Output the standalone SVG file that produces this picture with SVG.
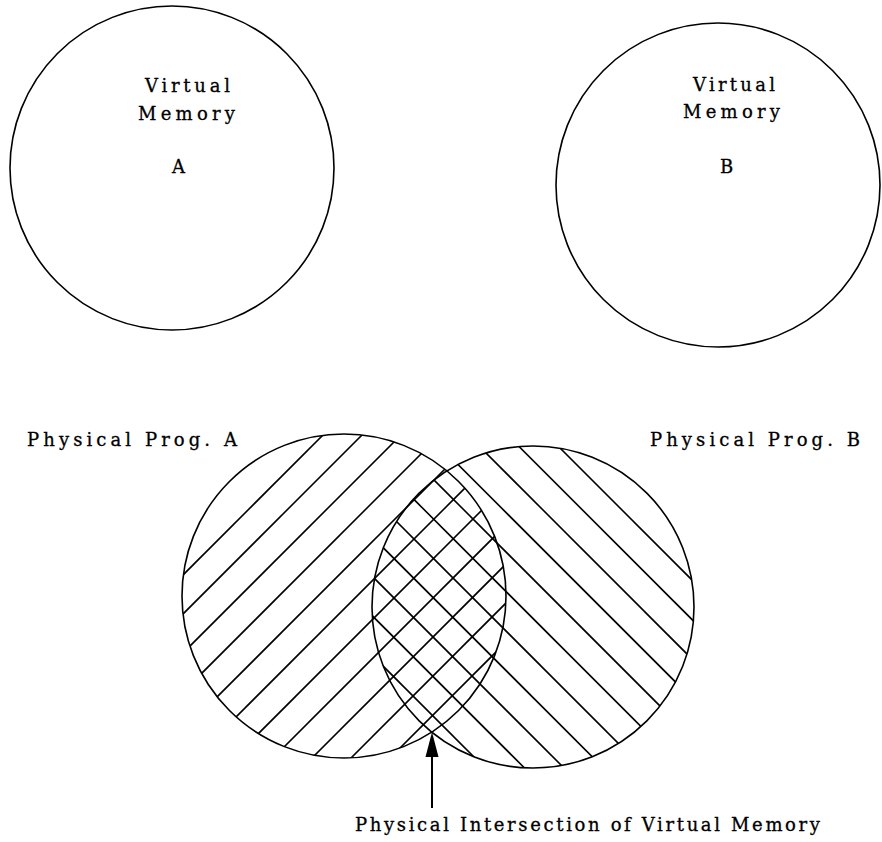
<svg xmlns="http://www.w3.org/2000/svg" width="882" height="842" viewBox="0 0 882 842">
<style>
.c{fill:none;stroke:#000;stroke-width:1.6}
.h{stroke:#000;stroke-width:1.6}
text{font-family:"DejaVu Serif","Liberation Serif",serif;font-size:18px;fill:#000;stroke:#000;stroke-width:0.3}
</style>
<defs>
<clipPath id="clipA"><circle cx="344" cy="596" r="162"/></clipPath>
<clipPath id="clipB"><circle cx="533" cy="607" r="161"/></clipPath>
</defs>
<rect width="882" height="842" fill="#fff"/>
<g id="virtualA">
<circle class="c" cx="172" cy="168" r="162"/>
<text x="145" y="92" textLength="85" lengthAdjust="spacing">Virtual</text>
<text x="138" y="120" textLength="97" lengthAdjust="spacing">Memory</text>
<text x="172" y="173">A</text>
</g>
<g id="virtualB">
<circle class="c" cx="718" cy="185" r="162"/>
<text x="693" y="91" textLength="82" lengthAdjust="spacing">Virtual</text>
<text x="683" y="118" textLength="97" lengthAdjust="spacing">Memory</text>
<text x="720" y="173">B</text>
</g>
<g id="physicalA">
<g clip-path="url(#clipA)" class="h">
<line x1="100" y1="658" x2="600" y2="158"/>
<line x1="100" y1="697" x2="600" y2="197"/>
<line x1="100" y1="736" x2="600" y2="236"/>
<line x1="100" y1="775" x2="600" y2="275"/>
<line x1="100" y1="814" x2="600" y2="314"/>
<line x1="100" y1="853" x2="600" y2="353"/>
<line x1="100" y1="892" x2="600" y2="392"/>
<line x1="100" y1="931" x2="600" y2="431"/>
<line x1="100" y1="970" x2="600" y2="470"/>
<line x1="100" y1="1009" x2="600" y2="509"/>
<line x1="100" y1="1048" x2="600" y2="548"/>
</g>
<circle class="c" cx="344" cy="596" r="162"/>
<text x="27" y="446" textLength="210" lengthAdjust="spacing">Physical Prog. A</text>
</g>
<g id="physicalB">
<g clip-path="url(#clipB)" class="h">
<line x1="300" y1="188" x2="800" y2="688"/>
<line x1="300" y1="227.5" x2="800" y2="727.5"/>
<line x1="300" y1="267" x2="800" y2="767"/>
<line x1="300" y1="306.5" x2="800" y2="806.5"/>
<line x1="300" y1="346" x2="800" y2="846"/>
<line x1="300" y1="385.5" x2="800" y2="885.5"/>
<line x1="300" y1="425" x2="800" y2="925"/>
<line x1="300" y1="464.5" x2="800" y2="964.5"/>
<line x1="300" y1="504" x2="800" y2="1004"/>
<line x1="300" y1="543.5" x2="800" y2="1043.5"/>
<line x1="300" y1="583" x2="800" y2="1083"/>
</g>
<circle class="c" cx="533" cy="607" r="161"/>
<text x="650" y="446" textLength="210" lengthAdjust="spacing">Physical Prog. B</text>
</g>
<g id="intersectionLabel">
<text x="355" y="831" textLength="465" lengthAdjust="spacing">Physical Intersection of Virtual Memory</text>
</g>
<g id="connectors">
<line x1="432" y1="808" x2="432" y2="755" stroke="#000" stroke-width="2"/>
<polygon points="432,732 425.5,757 438.5,757" fill="#000"/>
</g>
</svg>
